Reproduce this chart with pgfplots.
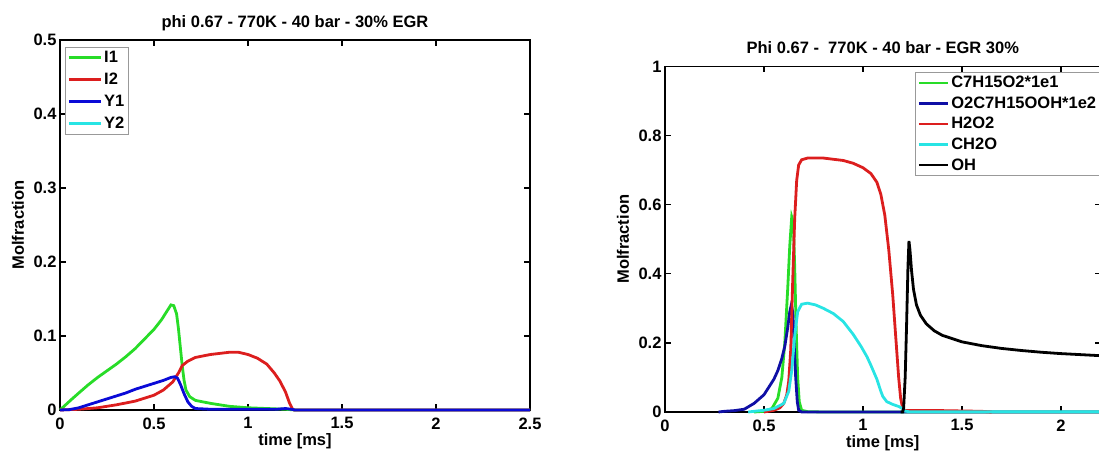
\documentclass[border=0pt]{standalone}
\usepackage{fontspec}
\setmainfont{Liberation Sans}
\usepackage{pgfplots}
\pgfplotsset{compat=1.18}

\definecolor{mgreen}{RGB}{40,220,40}
\definecolor{mred}{RGB}{220,30,30}
\definecolor{mblue}{RGB}{10,10,215}
\definecolor{mnavy}{RGB}{15,15,165}
\definecolor{mcyan}{RGB}{40,228,228}

\newcommand{\mfont}{\bfseries\fontsize{16.5}{19}\selectfont}

\pgfplotsset{
  matlab/.style={
    scale only axis,
    clip=false,
    axis line style={line width=1.6pt},
    every tick/.style={black, line width=1.2pt},
    major tick length=6pt,
    tick align=inside,
    tick label style={font=\mfont},
    xticklabel style={yshift=-4pt},
    /pgf/number format/assume math mode=true,
    /pgf/number format/fixed,
    every axis plot/.append style={line width=2.8pt},
    xlabel={time [ms]}, ylabel={Molfraction},
    every axis x label/.style={at={(axis description cs:0.5,0)}, anchor=center, yshift=-31pt, font=\mfont},
    every axis y label/.style={at={(axis description cs:0,0.5)}, xshift=-42pt, rotate=90, anchor=center, font=\mfont},
    title style={at={(axis description cs:0.5,1)}, anchor=base, yshift=7pt, font=\mfont},
    legend cell align=left,
    legend style={draw=black!40, line width=0.8pt, font=\mfont, inner sep=2pt, anchor=north west},
  }
}

\begin{document}
\begin{tikzpicture}[x=1pt,y=1pt]
\useasboundingbox (0,0) rectangle (1099,450);
\clip (0,0) rectangle (1099,450);

% left panel
\begin{axis}[matlab,
  at={(60pt,40pt)}, anchor=south west,
  width=470pt, height=370pt,
  xmin=0, xmax=2.5, ymin=0, ymax=0.5,
  xtick={0,0.5,1,1.5,2,2.5},
  ytick={0,0.1,0.2,0.3,0.4,0.5},
  title={phi 0.67 - 770K - 40 bar - 30\% EGR},
  legend image code/.code={\draw[#1] (0pt,0pt) -- (32pt,0pt);},
  legend style={at={(0.0106,0.981)}, row sep=5pt},
]
\addplot[mgreen] coordinates {
  (0,0) (0.03,0.007) (0.06,0.014) (0.1,0.023) (0.15,0.034) (0.2,0.044)
  (0.25,0.053) (0.3,0.062) (0.35,0.072) (0.4,0.083) (0.45,0.096) (0.5,0.109)
  (0.54,0.122) (0.57,0.134) (0.59,0.142) (0.605,0.141) (0.62,0.13) (0.63,0.11)
  (0.64,0.085) (0.65,0.06) (0.66,0.04) (0.67,0.027) (0.69,0.018) (0.72,0.013)
  (0.8,0.009) (0.9,0.005) (1.0,0.003) (1.1,0.002) (1.2,0.001) (1.25,0) (2.5,0)
};
\addlegendentry{I1}
\addplot[mred] coordinates {
  (0,0) (0.1,0.001) (0.2,0.003) (0.3,0.007) (0.4,0.012) (0.5,0.02) (0.55,0.027)
  (0.6,0.038) (0.63,0.05) (0.65,0.06) (0.68,0.066) (0.72,0.071) (0.8,0.075)
  (0.9,0.078) (0.95,0.078) (1.0,0.075) (1.05,0.07) (1.1,0.062) (1.14,0.05)
  (1.17,0.039) (1.2,0.024) (1.22,0.01) (1.235,0.002) (1.245,0) (2.5,0)
};
\addlegendentry{I2}
\addplot[mblue] coordinates {
  (0,0) (0.05,0.0005) (0.1,0.003) (0.15,0.007) (0.2,0.011) (0.25,0.015)
  (0.3,0.019) (0.35,0.023) (0.4,0.028) (0.45,0.032) (0.5,0.036) (0.55,0.04)
  (0.59,0.044) (0.61,0.045) (0.625,0.043) (0.64,0.035) (0.66,0.022) (0.68,0.011)
  (0.7,0.005) (0.72,0.002) (0.8,0.001) (1.0,0.001) (1.15,0.001) (1.2,0.002)
  (1.23,0.001) (1.25,0) (2.5,0)
};
\addlegendentry{Y1}
\addlegendimage{mcyan, line width=2.8pt}
\addlegendentry{Y2}
\end{axis}

% right panel
\begin{axis}[matlab,
  at={(665pt,38pt)}, anchor=south west,
  width=435.6pt, height=345.5pt,
  xmin=0, xmax=2.2, ymin=0, ymax=1,
  xtick={0,0.5,1,1.5,2},
  ytick={0,0.2,0.4,0.6,0.8,1},
  title={Phi 0.67 -\ \ 770K - 40 bar - EGR 30\%},
  legend image code/.code={\draw[#1] (0pt,0pt) -- (29pt,0pt);},
  legend style={at={(0.574,0.984)}, row sep=3.5pt},
]
\addplot[mgreen] coordinates {
  (0.45,0) (0.5,0.002) (0.54,0.01) (0.57,0.04) (0.59,0.1) (0.605,0.2)
  (0.62,0.36) (0.63,0.48) (0.64,0.565) (0.648,0.55) (0.655,0.42) (0.662,0.25)
  (0.67,0.1) (0.678,0.03) (0.69,0.005) (0.72,0.001) (0.8,0) (2.2,0)
};
\addlegendentry{C7H15O2*1e1}
\addplot[mnavy] coordinates {
  (0.27,0) (0.3,0.002) (0.35,0.004) (0.4,0.008) (0.45,0.025) (0.5,0.05)
  (0.52,0.068) (0.55,0.095) (0.57,0.12) (0.59,0.155) (0.605,0.19) (0.62,0.245)
  (0.63,0.29) (0.638,0.31) (0.645,0.29) (0.652,0.2) (0.66,0.1) (0.668,0.03)
  (0.675,0.005) (0.69,0) (2.2,0)
};
\addlegendentry{O2C7H15OOH*1e2}
\addplot[mred] coordinates {
  (0.5,0) (0.55,0.005) (0.58,0.012) (0.6,0.025) (0.615,0.05) (0.625,0.09)
  (0.635,0.18) (0.645,0.38) (0.655,0.56) (0.665,0.67) (0.675,0.715) (0.69,0.73)
  (0.72,0.735) (0.8,0.735) (0.9,0.728) (0.95,0.72) (1.0,0.707) (1.04,0.69)
  (1.07,0.665) (1.09,0.63) (1.11,0.57) (1.13,0.47) (1.15,0.34) (1.165,0.22)
  (1.18,0.1) (1.19,0.04) (1.2,0.012) (1.21,0.004) (1.4,0.004) (1.6,0.002) (1.65,0)
};
\addlegendentry{H2O2}
\addplot[mcyan] coordinates {
  (0.42,0) (0.45,0.002) (0.5,0.005) (0.55,0.01) (0.6,0.025) (0.625,0.06)
  (0.64,0.12) (0.655,0.22) (0.67,0.29) (0.69,0.312) (0.72,0.315) (0.76,0.31)
  (0.8,0.3) (0.85,0.285) (0.9,0.262) (0.95,0.225) (0.99,0.19) (1.02,0.16)
  (1.04,0.135) (1.07,0.095) (1.09,0.06) (1.1,0.045) (1.12,0.03) (1.15,0.022)
  (1.18,0.016) (1.2,0.01) (1.21,0.003) (1.23,0.001) (2.2,0.001)
};
\addlegendentry{CH2O}
\addplot[black] coordinates {
  (1.19,0) (1.2,0) (1.205,0.01) (1.213,0.1) (1.22,0.25) (1.227,0.42)
  (1.232,0.495) (1.237,0.47) (1.245,0.41) (1.255,0.355) (1.27,0.31) (1.29,0.28)
  (1.32,0.255) (1.36,0.235) (1.4,0.222) (1.5,0.203) (1.6,0.192) (1.7,0.184)
  (1.8,0.178) (1.9,0.173) (2.0,0.169) (2.1,0.166) (2.2,0.163)
};
\addlegendentry{OH}
\end{axis}
\end{tikzpicture}
\end{document}
